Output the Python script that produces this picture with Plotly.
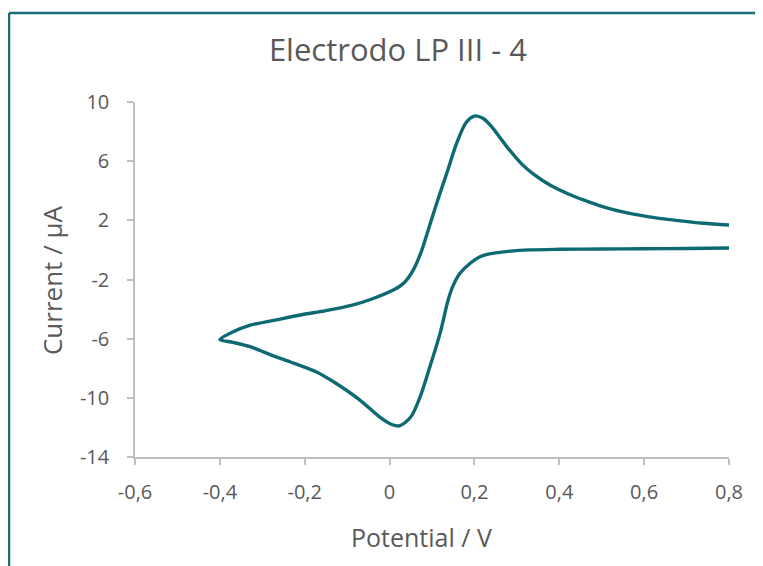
import plotly.graph_objects as go

# Forward scan (upper branch), potential in V, current in µA
fwd_potential = [-0.40, -0.37, -0.33, -0.27, -0.21, -0.15, -0.09, -0.04, 0.01, 0.035, 0.055,
                 0.075, 0.095, 0.115, 0.135, 0.158, 0.18, 0.20, 0.22, 0.24, 0.26, 0.28, 0.31,
                 0.34, 0.38, 0.42, 0.46, 0.50, 0.56, 0.62, 0.68, 0.74, 0.80]
fwd_current = [-6.05, -5.55, -5.1, -4.75, -4.4, -4.1, -3.75, -3.3, -2.7, -2.2, -1.4,
               -0.1, 1.7, 3.5, 5.2, 7.2, 8.6, 9.05, 8.9, 8.35, 7.6, 6.85, 5.85,
               5.1, 4.35, 3.8, 3.35, 2.95, 2.5, 2.2, 1.98, 1.8, 1.68]

# Reverse scan (lower branch)
rev_potential = [0.80, 0.70, 0.60, 0.50, 0.40, 0.33, 0.28, 0.25, 0.23, 0.213, 0.19, 0.166,
                 0.15, 0.138, 0.119, 0.095, 0.072, 0.05, 0.023, 0.005, -0.023, -0.07,
                 -0.133, -0.172, -0.235, -0.28, -0.305, -0.329, -0.369, -0.40]
rev_current = [0.13, 0.1, 0.08, 0.06, 0.04, 0.0, -0.1, -0.2, -0.3, -0.46, -0.9, -1.58,
               -2.4, -3.39, -5.64, -7.9, -9.93, -11.3, -11.9, -11.8, -11.3, -10.15,
               -8.9, -8.25, -7.56, -7.1, -6.8, -6.54, -6.25, -6.05]

x_tickvals = [-0.6, -0.4, -0.2, 0.0, 0.2, 0.4, 0.6, 0.8]
x_ticktext = ["-0,6", "-0,4", "-0,2", "0", "0,2", "0,4", "0,6", "0,8"]
y_tickvals = [10, 6, 2, -2, -6, -10, -14]
y_ticktext = ["10", "6", "2", "-2", "-6", "-10", "-14"]

line_color = "#0e6a72"
gray_text = "#595959"
axis_gray = "#bfbfbf"

fig = go.Figure()
fig.add_trace(go.Scatter(
    x=rev_potential + fwd_potential[1:],
    y=rev_current + fwd_current[1:],
    mode="lines",
    line=dict(color=line_color, width=3.4, shape="spline", smoothing=0.8),
    showlegend=False,
    hoverinfo="skip",
))

fig.update_layout(
    width=763, height=566,
    margin=dict(l=127, r=42, t=94, b=117),
    paper_bgcolor="white", plot_bgcolor="white",
    font=dict(family="Open Sans", color=gray_text),
    title=dict(text="Electrodo LP III - 4", x=0.511, xanchor="center", y=0.926, yanchor="middle",
               font=dict(family="Open Sans", size=31, color=gray_text)),
    xaxis=dict(
        range=[-0.6, 0.8], tickvals=x_tickvals, ticktext=x_ticktext,
        showgrid=False, zeroline=False, showline=True, linecolor=axis_gray, linewidth=1.5,
        ticks="outside", ticklen=6, tickcolor=axis_gray, tickwidth=1.5,
        ticklabelstandoff=10,
        tickfont=dict(size=20, color=gray_text),
    ),
    yaxis=dict(
        range=[-14, 10], tickvals=y_tickvals, ticktext=y_ticktext,
        showgrid=False, zeroline=False, showline=True, linecolor=axis_gray, linewidth=1.5,
        ticks="outside", ticklen=6, tickcolor=axis_gray, tickwidth=1.5,
        ticklabelstandoff=14,
        tickfont=dict(size=20, color=gray_text),
    ),
    annotations=[
        dict(text="Potential / V", xref="paper", yref="paper", x=0.4815, y=-0.2254,
             xanchor="center", yanchor="middle", showarrow=False,
             font=dict(size=25, color=gray_text)),
        dict(text="Current / µA", xref="paper", yref="paper", x=-0.1397, y=0.4986,
             xanchor="center", yanchor="middle", showarrow=False, textangle=-90,
             font=dict(size=26, color=gray_text)),
    ],
    shapes=[
        dict(type="line", xref="paper", yref="paper", x0=-0.2121, x1=1.2, y0=1.2507, y1=1.2507,
             line=dict(color="#1a6e78", width=2.5)),
        dict(type="line", xref="paper", yref="paper", x0=-0.2121, x1=-0.2121, y0=1.2507, y1=-0.35,
             line=dict(color="#1a6e78", width=2.5)),
    ],
)

fig.write_html("out.html")
